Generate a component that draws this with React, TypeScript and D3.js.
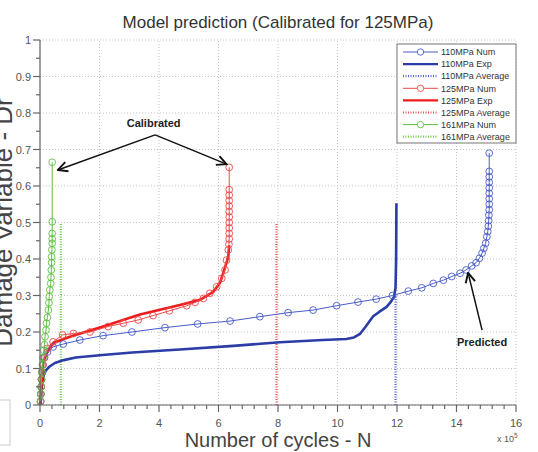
import * as d3 from 'd3'

// x in units of 1e5 cycles, y = damage variable
const xTicks = [0, 2, 4, 6, 8, 10, 12, 14, 16]
const yTicks = [0, 0.1, 0.2, 0.3, 0.4, 0.5, 0.6, 0.7, 0.8, 0.9, 1]

const num110: [number, number][] = [
  [0.02, 0.01], [0.03, 0.03], [0.04, 0.05], [0.05, 0.07], [0.07, 0.09], [0.1, 0.11], [0.15, 0.13], [0.25, 0.145],
  [0.44, 0.159], [0.78, 0.167], [1.34, 0.178], [2.12, 0.19], [3.09, 0.2], [4.2, 0.212], [5.3, 0.222], [6.39, 0.23],
  [7.39, 0.242], [8.34, 0.253], [9.18, 0.26], [9.97, 0.272], [10.69, 0.282], [11.3, 0.29], [11.85, 0.3],
  [12.38, 0.312], [12.83, 0.321], [13.22, 0.333], [13.56, 0.342], [13.84, 0.352], [14.12, 0.361], [14.32, 0.37],
  [14.51, 0.381], [14.66, 0.39], [14.77, 0.402], [14.86, 0.416], [14.92, 0.429], [14.98, 0.443], [15.02, 0.461],
  [15.05, 0.475], [15.07, 0.49], [15.08, 0.505], [15.09, 0.52], [15.1, 0.535], [15.1, 0.55], [15.1, 0.565],
  [15.1, 0.58], [15.1, 0.595], [15.1, 0.61], [15.1, 0.625], [15.1, 0.64], [15.1, 0.69],
]
const exp110: [number, number][] = [
  [0.02, 0.0], [0.04, 0.03], [0.07, 0.06], [0.12, 0.08], [0.2, 0.095], [0.3, 0.104], [0.5, 0.115], [0.8, 0.123],
  [1.2, 0.13], [2.1, 0.137], [3.1, 0.144], [4.7, 0.152], [6.5, 0.162], [8.07, 0.172], [9.5, 0.178], [10.3, 0.181],
  [10.55, 0.185], [10.76, 0.195], [10.95, 0.215], [11.1, 0.232], [11.2, 0.243], [11.4, 0.255], [11.65, 0.269],
  [11.8, 0.283], [11.9, 0.297], [11.95, 0.32], [11.97, 0.4], [11.98, 0.553],
]
const avg110 = { n: 11.95, top: 0.3 }

const num125: [number, number][] = [
  [0.02, 0.01], [0.03, 0.03], [0.04, 0.05], [0.05, 0.07], [0.07, 0.09], [0.1, 0.11], [0.15, 0.13], [0.25, 0.155],
  [0.44, 0.173], [0.76, 0.192], [1.12, 0.196], [1.68, 0.2], [2.29, 0.215], [2.8, 0.224], [3.3, 0.233], [3.8, 0.245],
  [4.35, 0.258], [4.93, 0.272], [5.21, 0.281], [5.49, 0.292], [5.71, 0.306], [5.94, 0.324], [6.11, 0.347],
  [6.22, 0.37], [6.27, 0.397], [6.33, 0.425], [6.35, 0.44], [6.36, 0.455], [6.36, 0.47], [6.36, 0.485],
  [6.36, 0.5], [6.36, 0.515], [6.36, 0.53], [6.36, 0.545], [6.36, 0.56], [6.36, 0.575], [6.36, 0.59], [6.36, 0.651],
]
const exp125: [number, number][] = [
  [0.02, 0.0], [0.04, 0.04], [0.07, 0.08], [0.11, 0.114], [0.22, 0.141], [0.44, 0.17], [1.0, 0.187], [2.12, 0.215],
  [3.36, 0.248], [4.7, 0.274], [5.38, 0.288], [5.82, 0.31], [6.05, 0.335], [6.16, 0.361], [6.25, 0.385],
  [6.33, 0.406], [6.36, 0.438],
]
const avg125 = { n: 7.95, top: 0.5 }

const num161: [number, number][] = [
  [0.02, 0.01], [0.03, 0.03], [0.04, 0.05], [0.05, 0.07], [0.06, 0.09], [0.08, 0.11], [0.1, 0.13], [0.13, 0.15],
  [0.15, 0.165], [0.17, 0.187], [0.2, 0.205], [0.22, 0.224], [0.25, 0.24], [0.28, 0.26], [0.3, 0.28], [0.31, 0.297],
  [0.33, 0.315], [0.36, 0.333], [0.37, 0.35], [0.38, 0.37], [0.39, 0.39], [0.39, 0.406], [0.4, 0.425],
  [0.41, 0.443], [0.41, 0.455], [0.41, 0.47], [0.41, 0.502], [0.41, 0.665],
]
const avg161 = { n: 0.7, top: 0.5 }

const legendItems = [
  { label: '110MPa Num', kind: 'num', color: '#4a5cc8' },
  { label: '110MPa Exp', kind: 'exp', color: '#2b3ca6' },
  { label: '110MPa Average', kind: 'avg', color: '#5466d0' },
  { label: '125MPa Num', kind: 'num', color: '#f04848' },
  { label: '125MPa Exp', kind: 'exp', color: '#ec1c1c' },
  { label: '125MPa Average', kind: 'avg', color: '#f05050' },
  { label: '161MPa Num', kind: 'num', color: '#5cbf40' },
  { label: '161MPa Average', kind: 'avg', color: '#70d050' },
]

export default function App() {
  const W = 538
  const H = 452
  const x = d3.scaleLinear().domain([0, 16]).range([40, 516])
  const y = d3.scaleLinear().domain([0, 1]).range([405, 40])
  const line = d3.line<[number, number]>().x(d => x(d[0])).y(d => y(d[1]))
  const font = 'Arial, "Liberation Sans", sans-serif'
  const axisColor = '#666'

  const xMinor = d3.range(0, 16.001, 0.4).filter(v => Math.abs(v / 2 - Math.round(v / 2)) > 0.01)
  const yMinor = d3.range(0.05, 1, 0.1)

  const numSeries = [
    { data: num110, color: '#4a5cc8' },
    { data: num125, color: '#f04848' },
    { data: num161, color: '#5cbf40' },
  ]
  const expSeries = [
    { data: exp110, color: '#2b3ca6' },
    { data: exp125, color: '#ec1c1c' },
  ]
  const avgSeries = [
    { d: avg110, color: '#5466d0' },
    { d: avg125, color: '#f05050' },
    { d: avg161, color: '#70d050' },
  ]

  // annotation anchors in data units
  const calText = [3.82, 0.762]
  const calApex = [3.87, 0.74]
  const calLeft = [0.6, 0.644]
  const calRight = [6.27, 0.66]
  const predText = [14.86, 0.162]
  const predFrom = [14.86, 0.205]
  const predTo = [14.39, 0.362]

  const lx = 397
  const ly = 44
  const rowH = 12.1

  return (
    <svg width={W} height={H} style={{ position: 'absolute', left: 0, top: 0, background: '#fff' }} fontFamily={font}>
      <defs>
        <marker id="arr" viewBox="0 0 10 10" refX="9" refY="5" markerWidth="8" markerHeight="8" orient="auto-start-reverse">
          <path d="M1,1 L9,5 L1,9" fill="none" stroke="#111" strokeWidth="1.6" />
        </marker>
      </defs>

      <text x={W / 2 + 9} y={28} textAnchor="middle" fontSize={17} fill="#333">
        Model prediction (Calibrated for 125MPa)
      </text>

      {/* grid */}
      {yTicks.map(t => (
        <line key={'gy' + t} x1={x(0)} x2={x(16)} y1={y(t)} y2={y(t)} stroke="#c4c4c4" strokeWidth={1} strokeDasharray="1,2" />
      ))}
      {xTicks.map(t => (
        <line key={'gx' + t} x1={x(t)} x2={x(t)} y1={y(0)} y2={y(1)} stroke="#c4c4c4" strokeWidth={1} strokeDasharray="1,2" />
      ))}

      {/* averages */}
      {avgSeries.map((a, i) => (
        <line key={'avg' + i} x1={x(a.d.n)} x2={x(a.d.n)} y1={y(0)} y2={y(a.d.top)} stroke={a.color} strokeWidth={2.2} strokeDasharray="1,1.5" />
      ))}

      {/* exp curves */}
      {expSeries.map((s, i) => (
        <path key={'exp' + i} d={line(s.data) || ''} fill="none" stroke={s.color} strokeWidth={2.6} strokeLinejoin="round" />
      ))}

      {/* numerical curves */}
      {numSeries.map((s, i) => (
        <g key={'num' + i}>
          <path d={line(s.data) || ''} fill="none" stroke={s.color} strokeWidth={1} />
          {s.data.map((p, j) => (
            <circle key={j} cx={x(p[0])} cy={y(p[1])} r={3.4} fill="none" stroke={s.color} strokeWidth={0.9} />
          ))}
        </g>
      ))}

      {/* axes */}
      <line x1={x(0)} x2={x(0)} y1={y(0)} y2={y(1)} stroke={axisColor} strokeWidth={1.2} />
      <line x1={x(0)} x2={x(16)} y1={y(0)} y2={y(0)} stroke={axisColor} strokeWidth={1.2} />
      {yTicks.map(t => (
        <g key={'yt' + t}>
          <line x1={x(0) - 7} x2={x(0)} y1={y(t)} y2={y(t)} stroke={axisColor} strokeWidth={1.2} />
          <text x={x(0) - 9} y={y(t) + 4} textAnchor="end" fontSize={11} fill="#555">{t === 0 ? '0' : d3.format('~g')(t)}</text>
        </g>
      ))}
      {yMinor.map(t => (
        <line key={'ym' + t} x1={x(0) - 4} x2={x(0)} y1={y(t)} y2={y(t)} stroke={axisColor} strokeWidth={1.2} />
      ))}
      {xTicks.map(t => (
        <g key={'xt' + t}>
          <line x1={x(t)} x2={x(t)} y1={y(0)} y2={y(0) + 7} stroke={axisColor} strokeWidth={1.2} />
          <text x={x(t)} y={y(0) + 22} textAnchor="middle" fontSize={11} fill="#555">{t}</text>
        </g>
      ))}
      {xMinor.map(t => (
        <line key={'xm' + t} x1={x(t)} x2={x(t)} y1={y(0)} y2={y(0) + 4} stroke={axisColor} strokeWidth={1.2} />
      ))}

      <text x={x(8)} y={447} textAnchor="middle" fontSize={20} fill="#444">Number of cycles - N</text>
      <text x={497} y={442} fontSize={9} fill="#555">x 10<tspan dy={-4} fontSize={6.5}>5</tspan></text>
      <text transform="translate(12,222) rotate(-90)" textAnchor="middle" fontSize={26} fill="#444">Damage Variable - Dr</text>
      <rect x={-1} y={400} width={11} height={45} fill="none" stroke="#ccc" strokeWidth={1} />

      {/* annotations */}
      <text x={x(calText[0])} y={y(calText[1])} textAnchor="middle" fontSize={11} fontWeight="bold" fill="#222">Calibrated</text>
      <path d={`M${x(calApex[0])},${y(calApex[1])} L${x(calLeft[0])},${y(calLeft[1])}`} stroke="#111" strokeWidth={1.5} markerEnd="url(#arr)" />
      <path d={`M${x(calApex[0])},${y(calApex[1])} L${x(calRight[0])},${y(calRight[1])}`} stroke="#111" strokeWidth={1.5} markerEnd="url(#arr)" />
      <text x={x(predText[0])} y={y(predText[1])} textAnchor="middle" fontSize={11} fontWeight="bold" fill="#222">Predicted</text>
      <path d={`M${x(predFrom[0])},${y(predFrom[1])} L${x(predTo[0])},${y(predTo[1])}`} stroke="#111" strokeWidth={1.5} markerEnd="url(#arr)" />

      {/* legend */}
      <rect x={lx} y={ly} width={119} height={99} fill="#fff" stroke="#777" strokeWidth={1} />
      {legendItems.map((it, i) => {
        const cy = ly + 8 + i * rowH
        return (
          <g key={it.label}>
            {it.kind === 'num' && (
              <>
                <line x1={lx + 6} x2={lx + 41} y1={cy} y2={cy} stroke={it.color} strokeWidth={1} />
                <circle cx={lx + 23.5} cy={cy} r={3.2} fill="#fff" stroke={it.color} strokeWidth={0.9} />
              </>
            )}
            {it.kind === 'exp' && <line x1={lx + 6} x2={lx + 41} y1={cy} y2={cy} stroke={it.color} strokeWidth={2.4} />}
            {it.kind === 'avg' && <line x1={lx + 6} x2={lx + 41} y1={cy} y2={cy} stroke={it.color} strokeWidth={2.2} strokeDasharray="1,1.5" />}
            <text x={lx + 44} y={cy + 3.2} fontSize={9} fill="#333">{it.label}</text>
          </g>
        )
      })}
    </svg>
  )
}
